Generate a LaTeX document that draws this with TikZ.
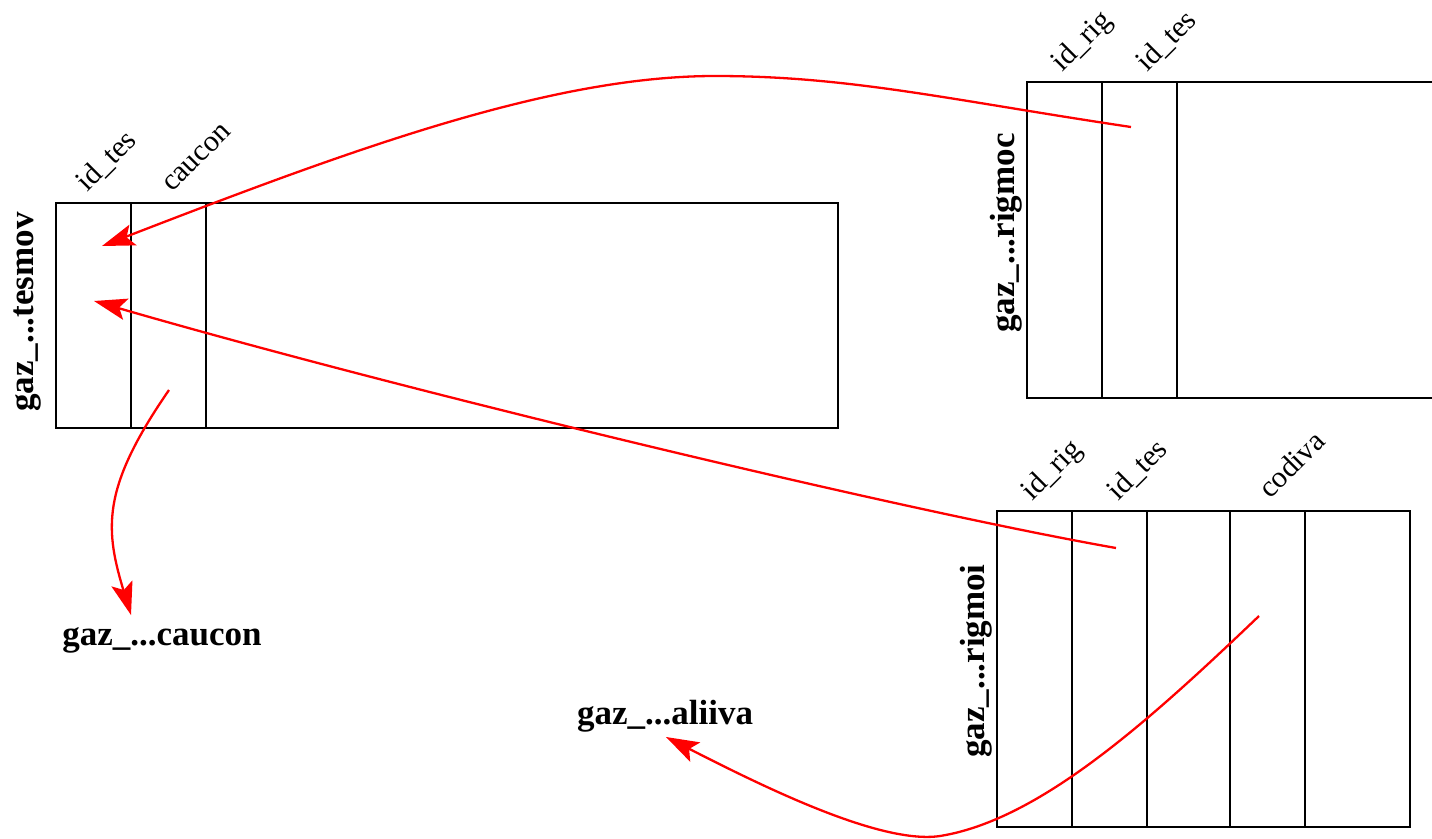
\documentclass[tikz,border=0pt]{standalone}
\usepackage{fontspec}
\setmainfont{Liberation Serif}
\usetikzlibrary{arrows.meta}
\begin{document}
\begin{tikzpicture}[x=1pt,y=-1pt,
  tbl/.style={draw=black, line width=1.2pt},
  tname/.style={font=\fontsize{35}{40}\selectfont\bfseries, rotate=90, inner sep=0pt},
  clabel/.style={font=\fontsize{30}{34}\selectfont, rotate=45, anchor=base west, inner sep=0pt},
  fkey/.style={draw=red, line width=2.3pt, shorten >=22pt},
  dart/.style={fill=red},
  ename/.style={font=\fontsize{35}{40}\selectfont\bfseries, inner sep=0pt}]
\useasboundingbox (0,0) rectangle (1432,838);

% table tesmov
\draw[tbl] (56,203) rectangle (838,428);
\draw[tbl] (131,203) -- (131,428);
\draw[tbl] (206,203) -- (206,428);
\node[tname] (tesmov) at (28,312) {gaz\_...tesmov};
\node[clabel] (tesmovA) at (87,193) {id\_tes};
\node[clabel] (tesmovB) at (172,193) {caucon};

% table rigmoc (cut at right edge)
\draw[tbl] (1432,82) -- (1027,82) -- (1027,398) -- (1432,398);
\draw[tbl] (1102,82) -- (1102,398);
\draw[tbl] (1177,82) -- (1177,398);
\node[tname] (rigmoc) at (1006,233) {gaz\_...rigmoc};
\node[clabel] (rigmocA) at (1062,73) {id\_rig};
\node[clabel] (rigmocB) at (1147,73) {id\_tes};

% table rigmoi
\draw[tbl] (997,511) rectangle (1410,827);
\draw[tbl] (1072,511) -- (1072,827);
\draw[tbl] (1147,511) -- (1147,827);
\draw[tbl] (1230,511) -- (1230,827);
\draw[tbl] (1305,511) -- (1305,827);
\node[tname] (rigmoi) at (976,661) {gaz\_...rigmoi};
\node[clabel] (rigmoiA) at (1032,502) {id\_rig};
\node[clabel] (rigmoiB) at (1118,502) {id\_tes};
\node[clabel] (rigmoiC) at (1270,500) {codiva};

% external tables
\node[ename] (caucon) at (162,640) {gaz\_...caucon};
\node[ename] (aliiva) at (665,716) {gaz\_...aliiva};

% connector end points
\coordinate (a1s) at (1131,127);
\coordinate (a1t) at (102,246);
\coordinate (a2s) at (1116,548);
\coordinate (a2t) at (94,301);
\coordinate (a3s) at (169,390);
\coordinate (a3t) at (131,615);
\coordinate (a4s) at (1259,616);
\coordinate (a4t) at (666,737);

\draw[fkey] (a1s) .. controls (950,100) and (850,76) .. (715,76)
  .. controls (550,76) and (350,150) .. (a1t);
\fill[dart, shift={(a1t)}, rotate=199.5] (0,0) -- (-33,11) -- (-26,0) -- (-33,-11) -- cycle;

\draw[fkey] (a2s) .. controls (900,510) and (400,390) .. (a2t);
\fill[dart, shift={(a2t)}, rotate=165.5] (0,0) -- (-33,11) -- (-26,0) -- (-33,-11) -- cycle;

\draw[fkey] (a3s) .. controls (100,490) and (105,530) .. (a3t);
\fill[dart, shift={(a3t)}, rotate=-74] (0,0) -- (-33,11) -- (-26,0) -- (-33,-11) -- cycle;

\draw[fkey] (a4s) .. controls (1150,720) and (1040,820) .. (940,836)
  .. controls (880,845) and (760,785) .. (a4t);
\fill[dart, shift={(a4t)}, rotate=152.7] (0,0) -- (-33,11) -- (-26,0) -- (-33,-11) -- cycle;
\end{tikzpicture}
\end{document}
